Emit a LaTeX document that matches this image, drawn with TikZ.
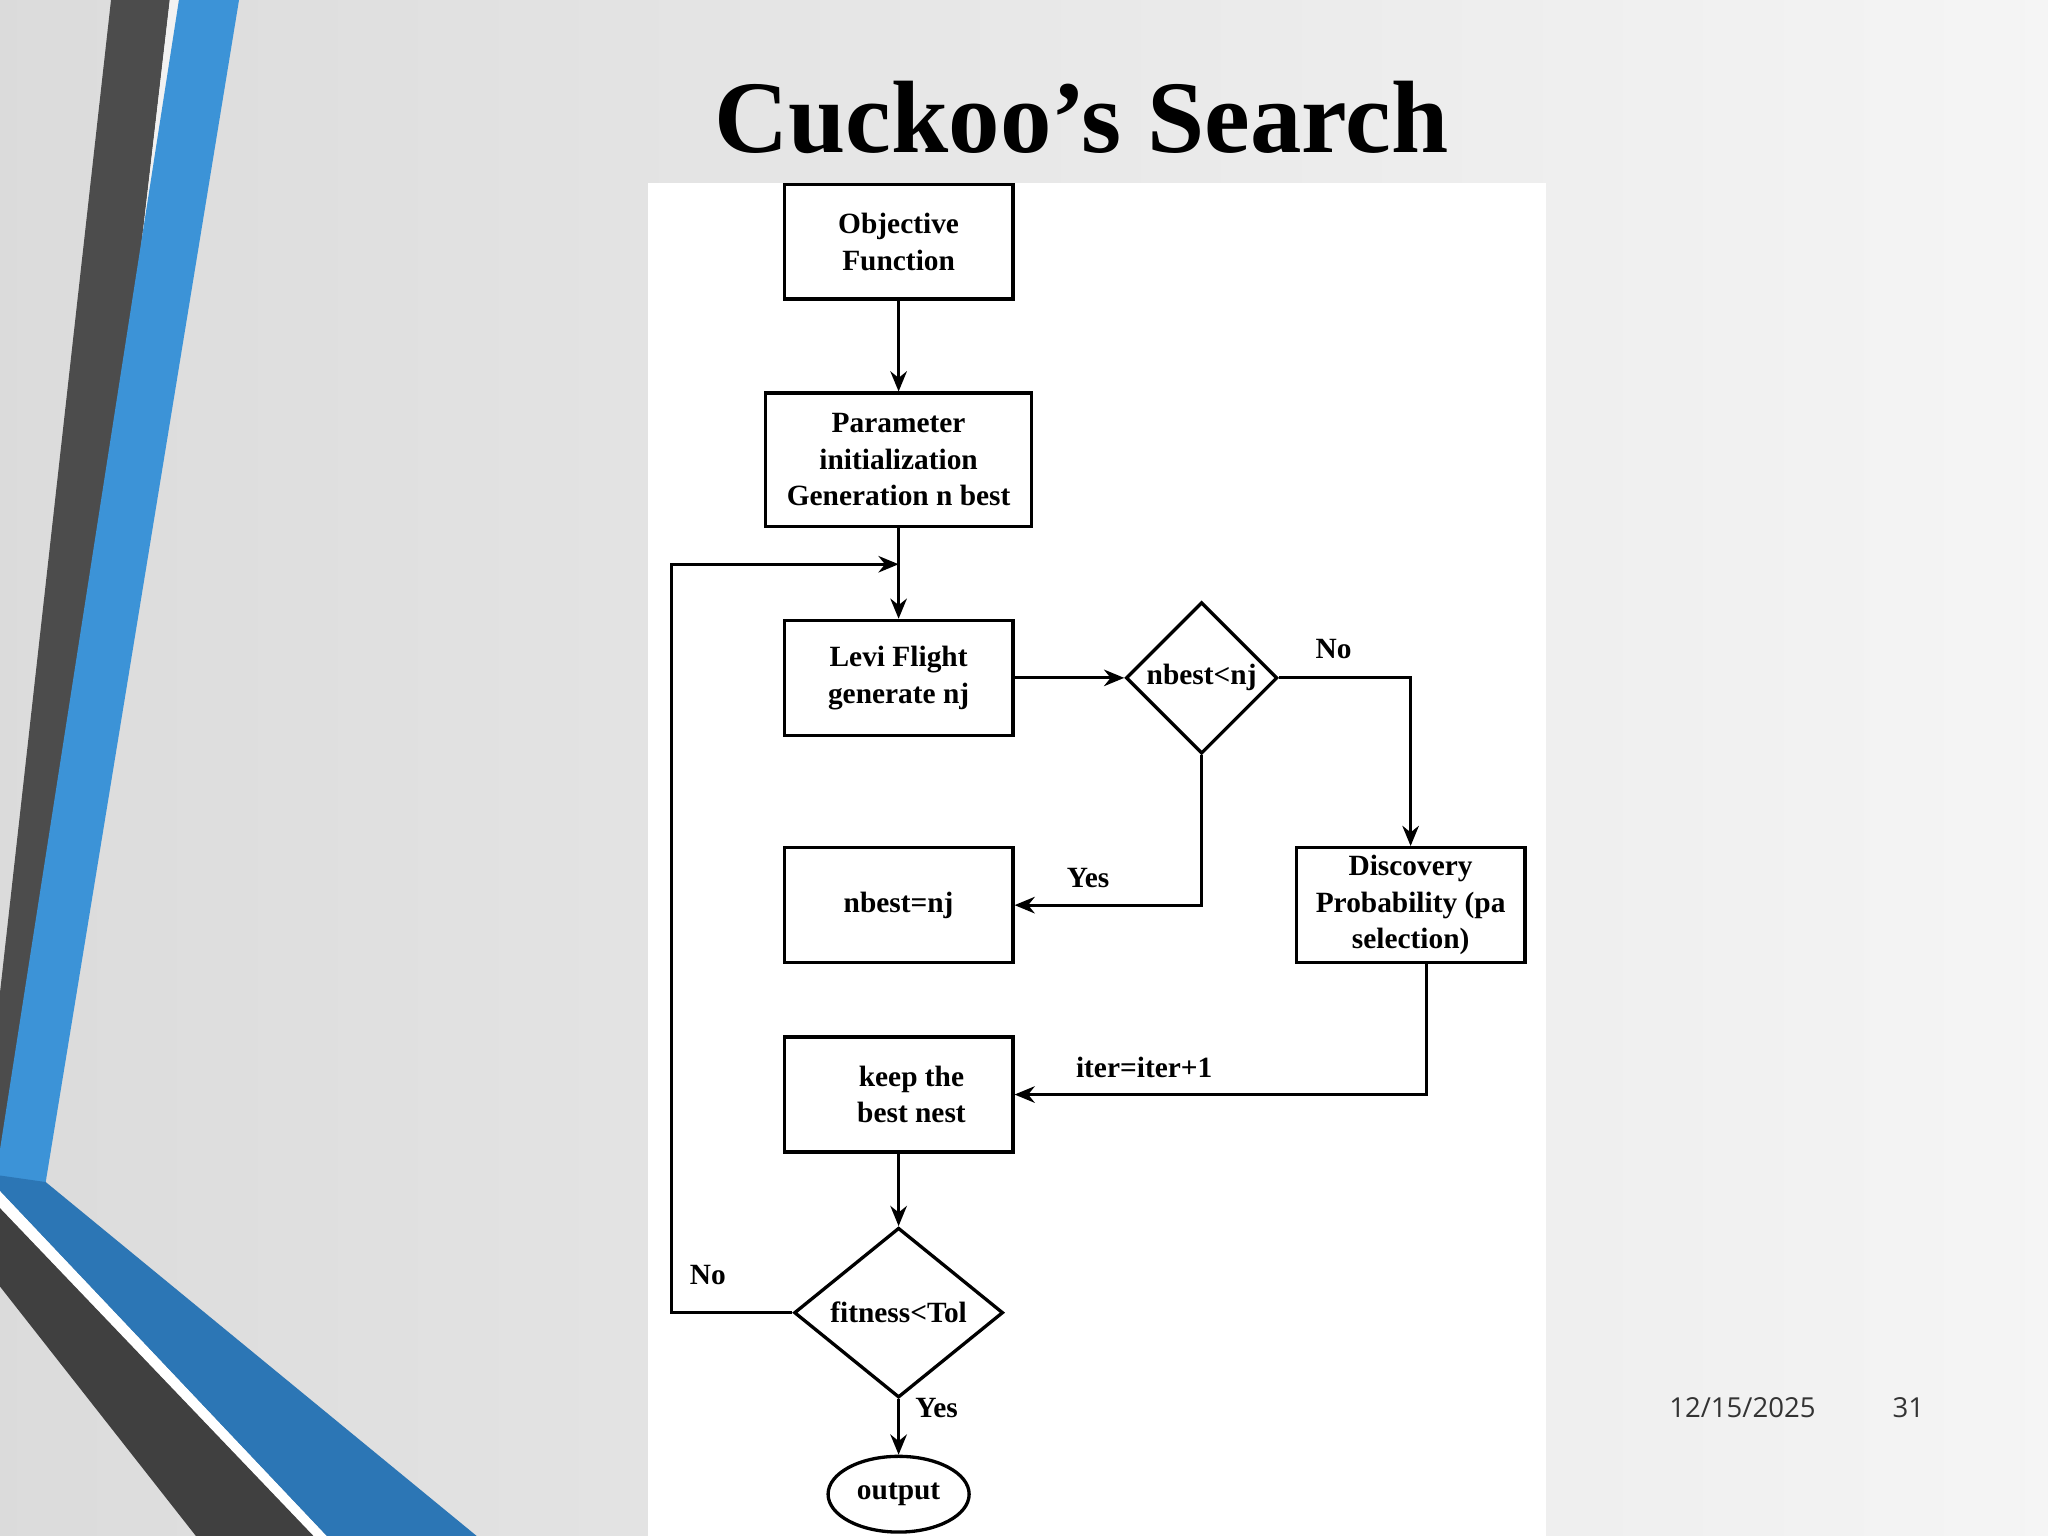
\documentclass[tikz,border=0pt]{standalone}
\usepackage{fontspec}
\setmainfont{Liberation Serif}
\newfontfamily\footfont{Open Sans}
\usetikzlibrary{shapes.geometric,arrows.meta}
\begin{document}
\begin{tikzpicture}[x=0.025cm,y=-0.025cm,
  box/.style={draw,line width=1.8pt,align=center,font=\fontsize{16}{20}\selectfont\bfseries,inner sep=0pt},
  dia/.style={draw,diamond,line width=1.8pt,inner sep=0pt,font=\fontsize{16}{20}\selectfont\bfseries},
  conn/.style={line width=1.6pt,-{Stealth[length=11pt,width=9pt]}},
  lab/.style={font=\fontsize{16}{20}\selectfont\bfseries}]
\useasboundingbox (0,0) rectangle (1568,1176);
\shade[left color=gray!28,right color=gray!8] (0,0) rectangle (1568,1176);
% decorative stripes
\fill[black!70] (85,0) -- (130,0) -- (25,905) -- (0,905) -- (0,760) -- cycle;
\fill[white!90!gray] (130,0) -- (137,0) -- (32,905) -- (25,905) -- cycle;
\fill[cyan!65!blue!80] (137,0) -- (183,0) -- (35,905) -- (0,905) -- (0,880) -- cycle;
\fill[cyan!60!blue!85!black] (0,900) -- (35,905) -- (365,1176) -- (250,1176) -- (0,912) -- cycle;
\fill[white] (0,912) -- (250,1176) -- (240,1176) -- (0,925) -- cycle;
\fill[black!75] (0,925) -- (240,1176) -- (150,1176) -- (0,985) -- cycle;
% title
\node[font=\fontsize{56}{64}\selectfont\bfseries] (title) at (828,90) {Cuckoo’s Search};
% panel
\fill[white] (496,140) rectangle (1184,1176);
\node[box,minimum width=175*0.025cm,minimum height=88*0.025cm] (obj) at (688,185) {Objective\\Function};
\node[box,minimum width=204*0.025cm,minimum height=102*0.025cm] (param) at (688,352) {Parameter\\initialization\\Generation n best};
\node[box,minimum width=175*0.025cm,minimum height=88*0.025cm] (levi) at (688,519) {Levi Flight\\generate nj};
\node[dia,minimum width=116*0.025cm,minimum height=116*0.025cm] (d1) at (920,519) {nbest<nj};
\node[box,minimum width=175*0.025cm,minimum height=88*0.025cm] (disc) at (1080,693) {Discovery\\Probability (pa\\selection)};
\node[box,minimum width=175*0.025cm,minimum height=88*0.025cm] (nb) at (688,693) {nbest=nj};
\node[box,minimum width=175*0.025cm,minimum height=88*0.025cm] (keep) at (688,838) {\hspace*{14pt}keep the\\\hspace*{14pt}best nest};
\node[dia,aspect=1.23,minimum width=160*0.025cm,minimum height=130*0.025cm] (d2) at (688,1005) {fitness<Tol};
\node[draw,ellipse,line width=1.8pt,minimum width=108*0.025cm,minimum height=58*0.025cm,inner sep=0pt,font=\fontsize{16}{20}\selectfont\bfseries] (out) at (688,1144) {output};
\coordinate (j) at (688,432);
\draw[conn] (obj) -- (param);
\draw[conn] (param) -- (levi);
\draw[conn] (d2.west) -- (514,1005) -- (514,432) -- (j);
\draw[conn] (levi) -- (d1);
\draw[conn] (d1.east) -| (disc.north);
\draw[conn] (d1.south) |- (nb.east);
\draw[conn] ([xshift=12*0.025cm]disc.south) |- (keep.east);
\draw[conn] (keep) -- (d2);
\draw[conn] (d2) -- (out);
\node[lab] (l1) at (1021,497) {No};
\node[lab] (l2) at (833,672) {Yes};
\node[lab] (l3) at (876,817) {iter=iter+1};
\node[lab] (l4) at (717,1078) {Yes};
\node[lab] (l5) at (542,976) {No};
\node[font=\footfont\fontsize{15}{18}\selectfont,text=black!80] (date) at (1334,1078) {12/15/2025};
\node[font=\footfont\fontsize{15}{18}\selectfont,text=black!80] (pg) at (1461,1078) {31};
\end{tikzpicture}
\end{document}
